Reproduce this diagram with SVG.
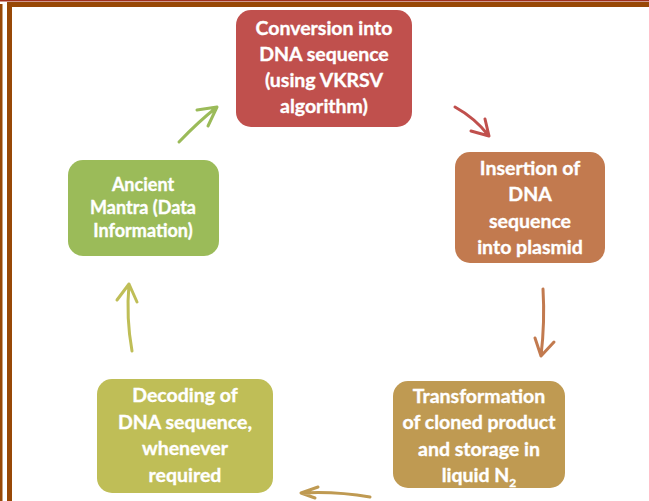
<svg xmlns="http://www.w3.org/2000/svg" width="649" height="501" viewBox="0 0 649 501">
<style>
.t{font-family:Lato,"Open Sans","Liberation Sans",sans-serif;font-weight:bold;fill:#fff;stroke:#fff;stroke-width:0.35;text-anchor:middle;font-size:19.5px}
.s{font-size:18px}
.c{fill:none;stroke-width:3;stroke-linecap:round;stroke-linejoin:round}
</style>
<rect width="649" height="501" fill="#fff"/>
<g id="frame">
<rect x="0" y="0" width="649" height="1.5" fill="#A0301E"/>
<rect x="7" y="2" width="642" height="5" fill="#984806"/>
<rect x="0" y="4" width="2.5" height="497" fill="#984806"/>
<rect x="7" y="2" width="5" height="499" fill="#984806"/>
</g>
<g id="n1">
<rect x="236" y="10" width="176" height="117" rx="15" fill="#C0504D"/>
<text class="t" x="324" y="35">Conversion into</text>
<text class="t" x="324" y="61">DNA sequence</text>
<text class="t" x="324" y="87">(using VKRSV</text>
<text class="t" x="324" y="113">algorithm)</text>
</g>
<g id="n2">
<rect x="455" y="152" width="150" height="111" rx="15" fill="#C27A4F"/>
<text class="t" x="530" y="175">Insertion of</text>
<text class="t" x="530" y="201">DNA</text>
<text class="t" x="530" y="228">sequence</text>
<text class="t" x="530" y="254">into plasmid</text>
</g>
<g id="n3">
<rect x="393" y="381" width="172" height="107" rx="15" fill="#BF9A52"/>
<text class="t" x="479" y="403">Transformation</text>
<text class="t" x="479" y="429">of cloned product</text>
<text class="t" x="479" y="456">and storage in</text>
<text class="t" x="479" y="482">liquid N<tspan font-size="12" dy="5">2</tspan></text>
</g>
<g id="n4">
<rect x="97" y="379" width="176" height="114" rx="15" fill="#BFBE57"/>
<text class="t" x="185" y="402">Decoding of</text>
<text class="t" x="185" y="429">DNA sequence,</text>
<text class="t" x="185" y="455">whenever</text>
<text class="t" x="185" y="482">required</text>
</g>
<g id="n5">
<rect x="68" y="160" width="151" height="96" rx="15" fill="#9BBB59"/>
<text class="t s" x="143" y="191">Ancient</text>
<text class="t s" x="143" y="214">Mantra (Data</text>
<text class="t s" x="143" y="237">Information)</text>
</g>
<g id="connectors">
<path class="c" stroke="#9BBB59" d="M179,142 Q198,122 217,107 M197,110 L217,107 L208,126"/>
<path class="c" stroke="#C0504D" d="M455,107 Q475,118 489,136 M471,131 L489,136 L485,119"/>
<path class="c" stroke="#C27A4F" d="M543,289 Q545,322 541,356 M535,338 L541,356 L554,342"/>
<path class="c" stroke="#BF9A52" d="M370,497 Q335,491 301,493 M318,487 L301,493 L315,498"/>
<path class="c" stroke="#BFBE57" d="M132,351 Q126,318 129,284 M117,300 L129,284 L137,302"/>
</g>
</svg>
